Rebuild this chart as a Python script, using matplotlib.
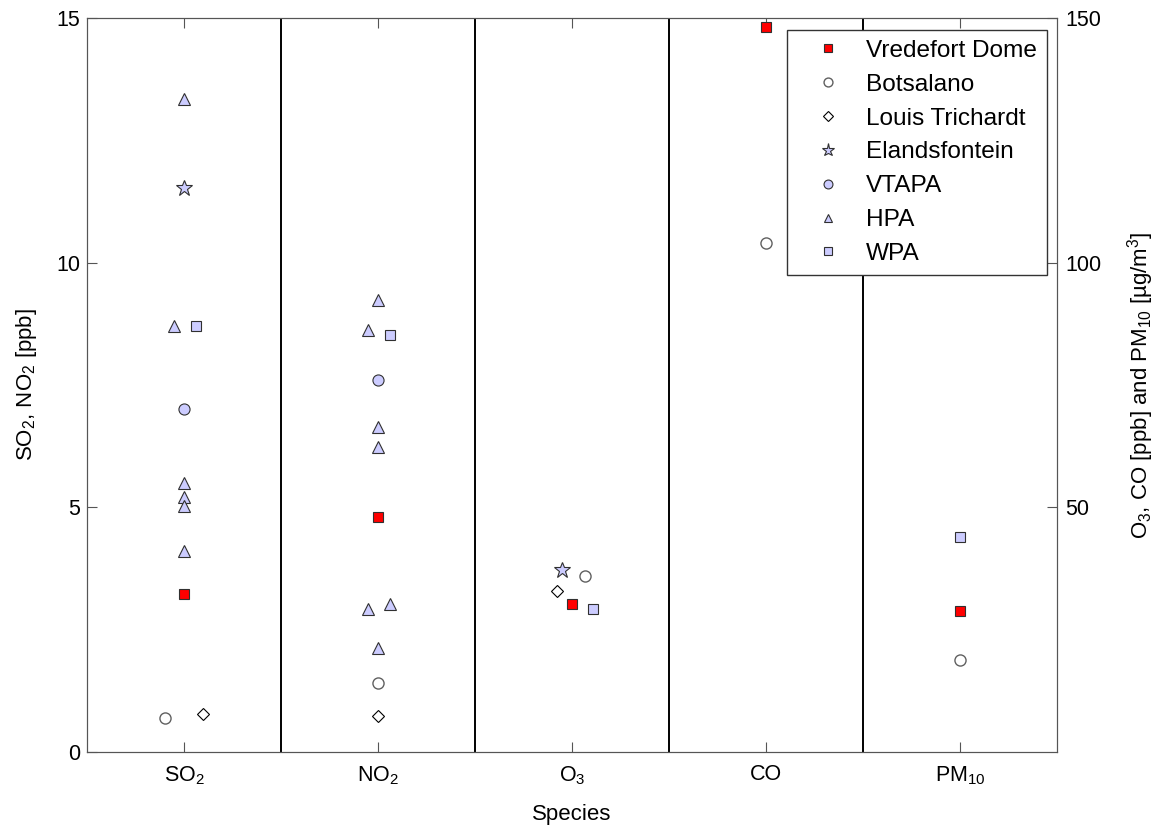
import matplotlib
matplotlib.use("Agg")
import matplotlib.pyplot as plt
from matplotlib.lines import Line2D

plt.rcParams['font.family'] = ['Liberation Sans', 'DejaVu Sans']
plt.rcParams['mathtext.fontset'] = 'custom'
plt.rcParams['mathtext.rm'] = 'Liberation Sans'
plt.rcParams['mathtext.it'] = 'Liberation Sans:italic'

species = ["SO$_2$", "NO$_2$", "O$_3$", "CO", "PM$_{10}$"]

# (category index 1..5, horizontal offset, value)
# SO2/NO2 on left axis [ppb]; O3, CO [ppb] and PM10 [ug/m3] on right axis
vredefort_cat = [1, 2, 3, 4, 5]
vredefort_off = [0, 0, 0, 0, 0]
vredefort_val = [3.22, 4.81, 30.2, 148.1, 28.8]

botsalano_cat = [1, 2, 3, 4, 5]
botsalano_off = [-0.1, 0, 0.065, 0, 0]
botsalano_val = [0.69, 1.40, 36.0, 104.1, 18.8]

louis_cat = [1, 2, 3]
louis_off = [0.1, 0, -0.075]
louis_val = [0.77, 0.74, 32.8]

elands_cat = [1, 3]
elands_off = [0, -0.05]
elands_val = [11.53, 37.2]

vtapa_cat = [1, 2]
vtapa_off = [0, 0]
vtapa_val = [7.0, 7.6]

hpa_cat = [1, 1, 1, 1, 1, 1, 2, 2, 2, 2, 2, 2, 2]
hpa_off = [0, -0.05, 0, 0, 0, 0, 0, -0.05, 0, 0, -0.05, 0.06, 0]
hpa_val = [13.34, 8.71, 5.50, 5.22, 5.03, 4.11,
           9.24, 8.62, 6.64, 6.23, 2.92, 3.02, 2.12]

wpa_cat = [1, 2, 3, 5]
wpa_off = [0.06, 0.06, 0.11, 0]
wpa_val = [8.71, 8.52, 29.2, 44.0]

lav = "#ccccff"
stations = [
    ("Vredefort Dome", vredefort_cat, vredefort_off, vredefort_val,
     dict(marker="s", ms=7, mfc="red", mec="#303030", mew=0.8)),
    ("Botsalano", botsalano_cat, botsalano_off, botsalano_val,
     dict(marker="o", ms=8, mfc="white", mec="#606060", mew=1.0)),
    ("Louis Trichardt", louis_cat, louis_off, louis_val,
     dict(marker="D", ms=6.5, mfc="white", mec="black", mew=0.8)),
    ("Elandsfontein", elands_cat, elands_off, elands_val,
     dict(marker="*", ms=12, mfc=lav, mec="#303030", mew=0.8)),
    ("VTAPA", vtapa_cat, vtapa_off, vtapa_val,
     dict(marker="o", ms=8, mfc=lav, mec="#303030", mew=0.8)),
    ("HPA", hpa_cat, hpa_off, hpa_val,
     dict(marker="^", ms=8, mfc=lav, mec="#303030", mew=0.8)),
    ("WPA", wpa_cat, wpa_off, wpa_val,
     dict(marker="s", ms=7, mfc=lav, mec="#303030", mew=0.8)),
]

fig = plt.figure(figsize=(11.73, 8.31), dpi=100)
ax = fig.add_axes([87 / 1173, 1 - 752 / 831, 970 / 1173, 734 / 831])
ax2 = ax.twinx()

handles = []
for name, cats, offs, vals, st in stations:
    for c, o, v in zip(cats, offs, vals):
        target = ax if c <= 2 else ax2
        target.plot(c + o, v, linestyle="none", zorder=3, **st)
    handles.append(Line2D([], [], linestyle="none", label=name, **st))

for xv in [1.5, 2.5, 3.5, 4.5]:
    ax.axvline(xv, color="black", lw=1.4, zorder=2)

ax.set_xlim(0.5, 5.5)
ax.set_ylim(0, 15)
ax2.set_ylim(0, 150)
ax.set_xticks([1, 2, 3, 4, 5])
ax.set_xticklabels(species)
ax.set_yticks([0, 5, 10, 15])
ax2.set_yticks([50, 100, 150])

for a in (ax, ax2):
    for s in a.spines.values():
        s.set_color("#555555")
    a.tick_params(direction="in", length=7, color="#555555", labelsize=15.5)
ax.tick_params(axis="x", top=True, pad=9)
ax.tick_params(axis="y", pad=5)
ax2.tick_params(axis="y", pad=6)

ax.set_xlabel("Species", fontsize=16, labelpad=12)
ax.set_ylabel("SO$_2$, NO$_2$ [ppb]", fontsize=16, labelpad=12)
ax2.set_ylabel("O$_3$, CO [ppb] and PM$_{10}$ [µg/m$^3$]", fontsize=16, labelpad=17)

leg = ax2.legend(handles=handles, loc="upper right", fontsize=17.6, frameon=True,
                 fancybox=False, framealpha=1, edgecolor="#333333",
                 markerscale=0.8, handlelength=2.5, handletextpad=0.33,
                 labelspacing=0.48, borderpad=0.4, borderaxespad=0,
                 bbox_to_anchor=(0.9897, 0.9837))
leg.get_frame().set_linewidth(1.0)

fig.savefig("out.png", dpi=100)
